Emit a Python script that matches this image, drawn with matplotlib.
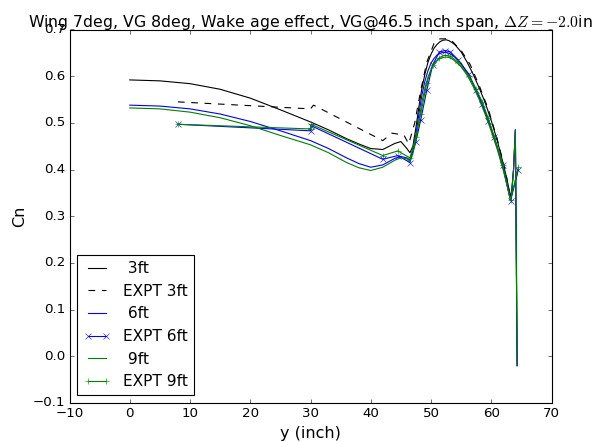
import matplotlib
matplotlib.use("Agg")
import matplotlib.pyplot as plt

plt.style.use("classic")

TITLE = r"Wing 7deg, VG 8deg, Wake age effect, VG@46.5 inch span, $\Delta Z=-2.0$in"

# simulation spanwise stations (inch)
X_SIM = [0, 5, 10, 15, 20, 25, 30, 33, 36, 38, 40, 42, 44, 45, 46, 46.5, 47,
         47.5, 48, 48.5, 49, 49.5, 50, 50.5, 51, 51.5, 52, 52.5, 53, 53.5, 54,
         55, 56, 57, 58, 59, 60, 61, 62, 62.5, 63, 63.3, 63.7, 64, 64.3]

CN_3FT = [0.592, 0.590, 0.584, 0.572, 0.553, 0.528, 0.502, 0.485, 0.466, 0.455,
          0.445, 0.443, 0.456, 0.460, 0.445, 0.436, 0.450, 0.490, 0.535, 0.575,
          0.605, 0.630, 0.647, 0.660, 0.668, 0.674, 0.677, 0.678, 0.676, 0.672,
          0.667, 0.652, 0.630, 0.604, 0.575, 0.543, 0.505, 0.462, 0.412, 0.385,
          0.355, 0.340, 0.400, 0.485, -0.020]

CN_6FT = [0.538, 0.536, 0.530, 0.519, 0.503, 0.483, 0.462, 0.445, 0.425, 0.413,
          0.405, 0.410, 0.424, 0.428, 0.425, 0.420, 0.440, 0.475, 0.520, 0.560,
          0.590, 0.612, 0.628, 0.638, 0.645, 0.649, 0.651, 0.651, 0.649, 0.645,
          0.640, 0.627, 0.607, 0.583, 0.555, 0.523, 0.487, 0.447, 0.402, 0.375,
          0.347, 0.335, 0.400, 0.485, -0.020]

CN_9FT = [0.532, 0.530, 0.523, 0.511, 0.494, 0.473, 0.453, 0.436, 0.415, 0.404,
          0.398, 0.405, 0.420, 0.425, 0.423, 0.418, 0.435, 0.465, 0.505, 0.545,
          0.575, 0.598, 0.614, 0.625, 0.633, 0.638, 0.640, 0.641, 0.640, 0.637,
          0.632, 0.620, 0.602, 0.578, 0.550, 0.518, 0.482, 0.443, 0.398, 0.372,
          0.345, 0.335, 0.400, 0.485, -0.020]

# experiment
X_EXPT_3FT = [8, 30, 30.5, 42, 43.5, 45.5, 46.3, 47.3, 48.3, 49.3, 50.5, 51.5,
              52.5, 53.5, 55, 56.5, 58, 59.5, 61, 62.3, 63.2, 64.5]
CN_EXPT_3FT = [0.545, 0.530, 0.538, 0.462, 0.478, 0.474, 0.455, 0.500, 0.570,
               0.630, 0.670, 0.680, 0.680, 0.675, 0.655, 0.625, 0.580, 0.530,
               0.465, 0.400, 0.340, 0.400]

X_EXPT = [8, 30, 30.1, 42, 44.5, 46.5, 47.5, 48.3, 49.3, 50.3, 51.4, 52.3,
          53.2, 54.5, 56.3, 57.5, 58.5, 59.5, 60.5, 61.9, 63.2, 64.5]
CN_EXPT_6FT = [0.497, 0.483, 0.494, 0.422, 0.430, 0.415, 0.460, 0.507, 0.570,
               0.625, 0.652, 0.655, 0.652, 0.635, 0.604, 0.570, 0.540, 0.505,
               0.469, 0.410, 0.333, 0.400]
CN_EXPT_9FT = [0.497, 0.487, 0.497, 0.430, 0.440, 0.425, 0.470, 0.520, 0.585,
               0.625, 0.640, 0.645, 0.643, 0.630, 0.600, 0.572, 0.545, 0.510,
               0.470, 0.410, 0.335, 0.405]

LABEL_SIZE = 14.4
TITLE_SIZE = 14.2
LEGEND_SIZE = 13.8


def main():
    fig = plt.figure(figsize=(594 / 80, 442 / 80), dpi=80, facecolor="white")
    ax = fig.add_axes([69.5 / 594, 1 - 403 / 442, 482 / 594, 373.5 / 442])

    ax.plot(X_SIM, CN_3FT, "k-", label=" 3ft")
    ax.plot(X_EXPT_3FT, CN_EXPT_3FT, "k--", label="EXPT 3ft")
    ax.plot(X_SIM, CN_6FT, "b-", label=" 6ft")
    ax.plot(X_EXPT, CN_EXPT_6FT, "b-x", label="EXPT 6ft")
    ax.plot(X_SIM, CN_9FT, "g-", label=" 9ft")
    ax.plot(X_EXPT, CN_EXPT_9FT, "g-+", label="EXPT 9ft")

    ax.set_xlim(-10, 70)
    ax.set_ylim(-0.1, 0.7)
    ax.set_xlabel("y (inch)", fontsize=LABEL_SIZE)
    ax.set_ylabel("Cn", fontsize=LABEL_SIZE)
    ax.set_title(TITLE, fontsize=TITLE_SIZE, pad=2)
    ax.legend(loc="lower left", fontsize=LEGEND_SIZE, handlelength=1.8)

    fig.savefig("out.png", dpi=80, facecolor="white")


if __name__ == "__main__":
    main()
